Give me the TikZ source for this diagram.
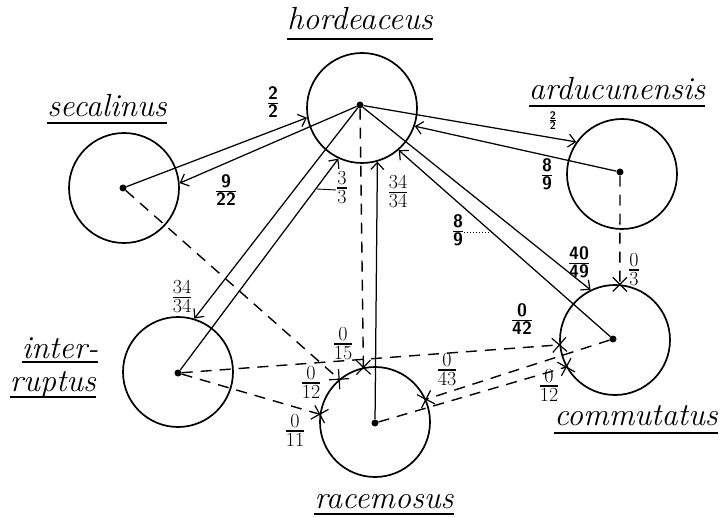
\documentclass[tikz,border=0pt]{standalone}
\usetikzlibrary{arrows.meta,shapes.misc}
\setlength{\arrayrulewidth}{1.1pt}
\newcommand\fr[2]{\begin{tabular}{@{}c@{}}#1\\[-2pt]\hline\rule{0pt}{0.76em}#2\end{tabular}}
\begin{document}
\begin{tikzpicture}[x=1pt,y=-1pt,
  circ/.style={circle,draw,line width=1.7pt,minimum size=110pt,inner sep=0pt},
  spot/.style={circle,fill,inner sep=0pt,minimum size=7pt},
  link/.style={line width=1.25pt,-{Straight Barb[length=7pt,width=13pt,line width=1.2pt]}},
  dashlink/.style={line width=1.4pt,dash pattern=on 11pt off 8pt},
  xmark/.style={cross out,draw,solid,line width=1.2pt,minimum width=13pt,minimum height=13pt,inner sep=0pt},
  frn/.style={font=\fontsize{20}{18}\selectfont,inner sep=1pt},
  sfrn/.style={font=\fontsize{18}{18}\selectfont\sffamily\bfseries,inner sep=1pt},
  species/.style={font=\fontsize{32}{34}\selectfont\itshape,inner sep=0pt,anchor=base},
  uline/.style={line width=1.5pt}]
\useasboundingbox (0,0) rectangle (722,518);

% circles
\node[circ] (H) at (362,108) {};
\node[circ] (S) at (124,188) {};
\node[circ] (A) at (622,174) {};
\node[circ] (I) at (178,372) {};
\node[circ] (R) at (375,422) {};
\node[circ] (C) at (615,340) {};
% centre dots
\node[spot] (Hd) at (360,105) {};
\node[spot] (Sd) at (123,188) {};
\node[spot] (Ad) at (620,172) {};
\node[spot] (Id) at (178,373) {};
\node[spot] (Rd) at (375,423) {};
\node[spot] (Cd) at (613,339) {};

% species names
\node[species] (hN) at (360,30) {hordeaceus};
\draw[uline] ([yshift=-9pt]hN.base west) -- ([yshift=-9pt]hN.base east);
\node[species] (sN) at (107,117) {secalinus};
\draw[uline] ([yshift=-6pt]sN.base west) -- ([yshift=-6pt]sN.base east);
\node[species] (aN) at (617,100) {arducunensis};
\draw[uline] ([yshift=-6pt]aN.base west) -- ([yshift=-6pt]aN.base east);
\node[species] (iN1) at (60,358) {inter-};
\draw[uline] ([yshift=-4pt]iN1.base west) -- ([yshift=-4pt]iN1.base east);
\node[species] (iN2) at (53,391) {ruptus};
\draw[uline] ([yshift=-6pt]iN2.base west) -- ([yshift=-6pt]iN2.base east);
\node[species] (rN) at (384,508) {racemosus};
\draw[uline] ([yshift=-6pt]rN.base west) -- ([yshift=-6pt]rN.base east);
\node[species] (cN) at (636,425) {commutatus};
\draw[uline] ([yshift=-8pt]cN.base west) -- ([yshift=-8pt]cN.base east);

% solid connectors
\draw[link] (Sd) -- (H.190);
\draw[link] (Hd) -- (S.5);
\draw[link] (Hd) -- (A.145);
\draw[link] (Ad) -- (H.341);
\draw[link] (Id) -- (H.245);
\draw[link] (Hd) -- (I.73);
\draw[link] (Rd) -- (H.286);
\draw[link] (Cd) -- (H.311);
\draw[link] (Hd) -- (C.116);

% dashed connectors
\draw[dashlink] (Hd) -- (R.102) node[xmark,sloped,pos=1] (x1) {};
\draw[dashlink] (Sd) -- (R.130) node[xmark,sloped,pos=1] (x2) {};
\draw[dashlink] (Id) -- (R.172) node[xmark,sloped,pos=1] (x3) {};
\draw[dashlink] (Id) -- (C.185) node[xmark,sloped,pos=1] (x4) {};
\draw[dashlink] (Rd) -- (C.209) node[xmark,sloped,pos=1] (x5) {};
\draw[dashlink] (Cd) -- (R.24) node[xmark,sloped,pos=1] (x6) {};
\draw[dashlink] (Ad) -- (C.85) node[xmark,sloped,pos=1] (x7) {};

% labels
\node[sfrn] (l1) at (273,105) {\fr{2}{2}};
\node[sfrn] (l2) at (226,193) {\fr{9}{22}};
\node[font=\fontsize{11}{10}\selectfont\sffamily\bfseries,inner sep=0pt] (l3) at (553,122) {\fr{2}{2}};
\node[sfrn] (l4) at (547,177) {\fr{8}{9}};
\node[frn] (l5) at (342,190) {\fr{3}{3}};
\node[frn] (l6) at (182,299) {\fr{34}{34}};
\node[frn] (l7) at (398,194) {\fr{34}{34}};
\node[sfrn] (l8) at (458,233) {\fr{8}{9}};
\node[sfrn] (l9) at (579,265) {\fr{40}{49}};
\node[frn] (l10) at (343,346) {\fr{0}{15}};
\node[frn] (l11) at (311,385) {\fr{0}{12}};
\node[frn] (l12) at (295,433) {\fr{0}{11}};
\node[sfrn] (l13) at (522,322) {\fr{0}{42}};
\node[frn] (l14) at (549,388) {\fr{0}{12}};
\node[frn] (l15) at (447,372) {\fr{0}{43}};
\node[frn] (l16) at (634,272) {\fr{0}{3}};

% leaders
\coordinate (k1) at (317,189);
\draw[line width=0.9pt] (l5.west) -- (k1);
\coordinate (k2) at (490,233);
\draw[line width=1pt,dotted] (l8.east) -- (k2);
\end{tikzpicture}
\end{document}
